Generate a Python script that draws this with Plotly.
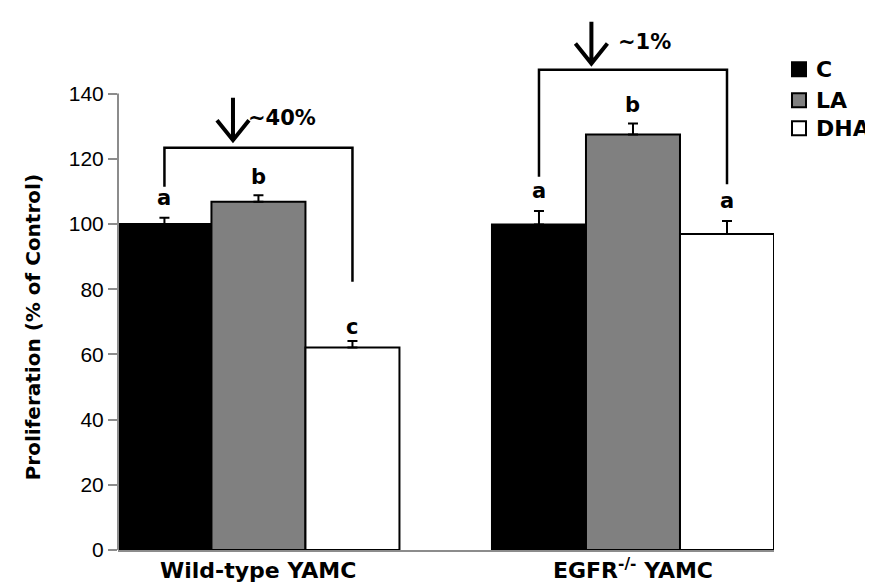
import plotly.graph_objects as go

# ---- data ----
groups = ["Wild-type YAMC", "EGFR<sup>-/-</sup> YAMC"]
treatments = ["C", "LA", "DHA"]
values = {
    "C": [100.0, 99.8],
    "LA": [106.8, 127.4],
    "DHA": [62.1, 96.9],
}
errors = {
    "C": [1.9, 4.2],
    "LA": [2.0, 3.4],
    "DHA": [2.0, 4.0],
}
letters = {
    "C": ["a", "a"],
    "LA": ["b", "b"],
    "DHA": ["c", "a"],
}
decrease_labels = ["~40%", "~1%"]
y_ticks = [0, 20, 40, 60, 80, 100, 120, 140]
y_title = "Proliferation (% of Control)"

# ---- styles ----
fills = {"C": "#000000", "LA": "#808080", "DHA": "#ffffff"}
FONT = "Liberation Sans, Arial, sans-serif"
BFONT = "DejaVu Sans, Verdana, sans-serif"
XMIN, XMAX = -0.375, 1.3765
YMAX = 165
BARGAP = 0.247
bw = (1 - BARGAP) / 3  # width of one bar in x units
offsets = {"C": -bw, "LA": 0.0, "DHA": bw}
letter_gap = {"a": 1.8, "b": 1.4, "c": 0.0}

# bracket geometry (heights in data units)
bracket_top = [123.4, 147.3]
bracket_left_bottom = [111.4, 114.5]
bracket_right_bottom = [82.3, 112.2]
arrow_dx = [-0.068, -0.111]
arrow_top = [138.7, 162.0]
arrow_tip = [125.7, 149.2]
label_dx = [0.062, 0.03]
label_y = [132.4, 155.9]

xpos = list(range(len(groups)))

fig = go.Figure()
for t in treatments:
    fig.add_trace(go.Bar(
        x=xpos, y=values[t], name=t,
        marker=dict(color=fills[t], line=dict(color="#000000", width=2)),
        error_y=dict(type="data", array=errors[t], arrayminus=[0] * len(groups),
                     symmetric=False, color="#000000", thickness=2, width=5),
        showlegend=False,
    ))

shapes = []
annotations = []

# significance letters
for t in treatments:
    for i, g in enumerate(xpos):
        lt = letters[t][i]
        annotations.append(dict(
            x=g + offsets[t], y=values[t][i] + errors[t][i] + letter_gap[lt],
            xref="x", yref="y", text="<b>%s</b>" % lt,
            showarrow=False, yanchor="bottom", xanchor="center",
            font=dict(family=BFONT, size=21, color="#000000"),
        ))

# group labels under the axis (bottom-anchored so baselines align)
for i, g in enumerate(xpos):
    annotations.append(dict(
        x=g, y=0, xref="x", yref="paper", yshift=-35,
        text="<b>%s</b>" % groups[i], showarrow=False,
        xanchor="center", yanchor="bottom",
        font=dict(family=BFONT, size=22, color="#000000"),
    ))

# brackets, arrows and percentage labels
for i, g in enumerate(xpos):
    xl = g + offsets["C"]
    xr = g + offsets["DHA"]
    shapes.append(dict(
        type="path", xref="x", yref="y",
        path="M %f,%f L %f,%f L %f,%f L %f,%f" % (
            xl, bracket_left_bottom[i], xl, bracket_top[i],
            xr, bracket_top[i], xr, bracket_right_bottom[i]),
        line=dict(color="#000000", width=2.5),
    ))
    ax = g + arrow_dx[i]
    hw = 16.0 / 374.5
    hh = 20.0 / 3.26
    shapes.append(dict(
        type="path", xref="x", yref="y",
        path="M %f,%f L %f,%f M %f,%f L %f,%f L %f,%f" % (
            ax, arrow_top[i], ax, arrow_tip[i],
            ax - hw, arrow_tip[i] + hh, ax, arrow_tip[i], ax + hw, arrow_tip[i] + hh),
        line=dict(color="#000000", width=4),
    ))
    annotations.append(dict(
        x=g + label_dx[i], y=label_y[i], xref="x", yref="y",
        text="<b>%s</b>" % decrease_labels[i], showarrow=False,
        xanchor="center", yanchor="middle",
        font=dict(family=BFONT, size=21, color="#000000"),
    ))

pw = 873 - 110 - 107
ph = 585 - 4 - 43

# y-axis line only up to the last tick
shapes.append(dict(type="line", xref="paper", yref="paper",
                   x0=0, x1=0, y0=0, y1=y_ticks[-1] / YMAX,
                   line=dict(color="#8c8c8c", width=2)))

# y-axis title, centred on the 0-140 span
annotations.append(dict(
    x=(25 - 110) / pw, y=(541.7 - 319) / ph, xref="paper", yref="paper",
    text="<b>%s</b>" % y_title, textangle=-90, showarrow=False,
    xanchor="center", yanchor="middle",
    font=dict(family=BFONT, size=20, color="#000000"),
))

# legend (manual)
leg_px_x = 784
leg_px_y = [61, 92, 120]
for k, t in enumerate(treatments):
    x0 = (leg_px_x - 110) / pw
    x1 = (leg_px_x + 14 - 110) / pw
    yc = (541.7 - leg_px_y[k]) / ph
    hs = 7.0 / ph
    shapes.append(dict(type="rect", xref="paper", yref="paper",
                       x0=x0, x1=x1, y0=yc - hs, y1=yc + hs,
                       fillcolor=fills[t], line=dict(color="#000000", width=2)))
    annotations.append(dict(
        x=(leg_px_x + 22 - 110) / pw, y=yc, xref="paper", yref="paper",
        text="<b>%s</b>" % t, showarrow=False, xanchor="left", yanchor="middle",
        font=dict(family=BFONT, size=22, color="#000000"),
    ))

fig.update_layout(
    width=873, height=585,
    margin=dict(l=110, r=107, t=4, b=43),
    paper_bgcolor="#ffffff", plot_bgcolor="#ffffff",
    barmode="group", bargap=BARGAP, bargroupgap=0,
    shapes=shapes, annotations=annotations,
    font=dict(family=FONT, color="#000000"),
    xaxis=dict(
        range=[XMIN, XMAX], tickmode="array", tickvals=xpos,
        showticklabels=False,
        showline=True, linecolor="#8c8c8c", linewidth=2,
        ticks="", showgrid=False, zeroline=False,
    ),
    yaxis=dict(
        range=[0, YMAX], tickmode="array", tickvals=y_ticks,
        tickfont=dict(family=FONT, size=21, color="#000000"),
        ticks="outside", ticklen=9, tickwidth=2, tickcolor="#8c8c8c",
        showline=False, showgrid=False, zeroline=False,
    ),
)

fig.write_html("out.html")
